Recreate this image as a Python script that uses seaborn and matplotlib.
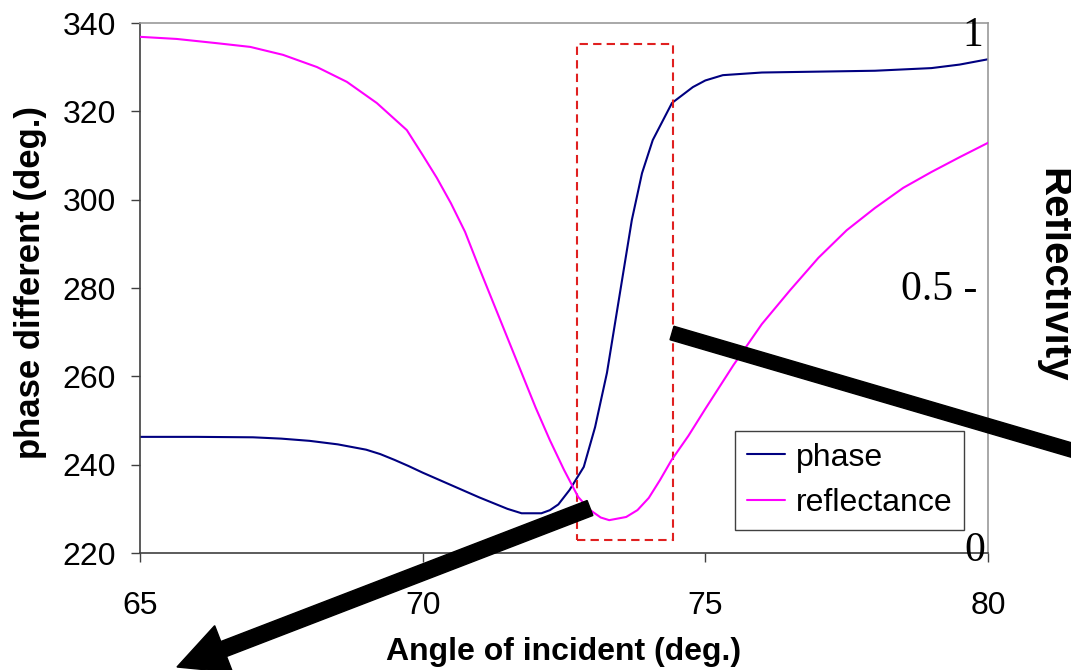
import matplotlib
matplotlib.use('Agg')
import matplotlib.pyplot as plt
import seaborn as sns
from matplotlib.patches import Rectangle, FancyArrow
from matplotlib.lines import Line2D

# phase curve (left axis)
phase_angle = [65.0, 66.0, 67.0, 67.5, 68.0, 68.5, 69.0, 69.25, 69.5, 69.75, 70.0, 70.5, 71.0,
               71.5, 71.75, 72.1, 72.25, 72.4, 72.6, 72.85, 73.05, 73.26, 73.49, 73.7, 73.88,
               74.07, 74.41, 74.78, 75.0, 75.31, 76.0, 77.0, 78.0, 79.0, 79.5, 80.0]
phase_deg = [246.3, 246.3, 246.2, 245.9, 245.4, 244.6, 243.4, 242.4, 241.1, 239.7, 238.2, 235.4,
             232.6, 230.0, 229.0, 229.0, 229.7, 231.0, 234.3, 239.5, 248.5, 260.8, 278.9, 295.4,
             306.0, 313.5, 321.9, 325.5, 327.0, 328.2, 328.8, 329.0, 329.2, 329.8, 330.6, 331.8]

# reflectance curve (right axis, 0..1)
refl_angle = [65.0, 65.65, 66.36, 66.95, 67.53, 68.13, 68.66, 69.19, 69.72, 70.0, 70.25, 70.5,
              70.75, 71.0, 71.25, 71.5, 71.75, 72.0, 72.25, 72.5, 72.75, 72.95, 73.15, 73.3,
              73.6, 73.8, 74.0, 74.2, 74.4, 74.7, 75.0, 75.5, 76.0, 76.5, 77.0, 77.5, 78.0,
              78.5, 79.0, 79.5, 80.0]
reflectance = [0.974, 0.970, 0.962, 0.955, 0.940, 0.917, 0.889, 0.849, 0.798, 0.751, 0.708, 0.660,
               0.606, 0.538, 0.472, 0.406, 0.340, 0.274, 0.213, 0.157, 0.106, 0.082, 0.067, 0.062,
               0.068, 0.081, 0.104, 0.138, 0.175, 0.221, 0.272, 0.355, 0.432, 0.496, 0.557, 0.609,
               0.651, 0.689, 0.719, 0.747, 0.774]

x_ticks = [65, 70, 75, 80]
y_ticks = [220, 240, 260, 280, 300, 320, 340]
refl_marks = [1.0, 0.5, 0.0]
refl_labels = ['1', '0.5 -', '0']
series_names = ['phase', 'reflectance']
series_colors = ['#000080', '#FF00FF']


def main():
    sns.set_style('white')
    plt.rcParams['font.family'] = ['Liberation Sans', 'DejaVu Sans']
    plt.rcParams['text.color'] = 'black'
    plt.rcParams['axes.labelcolor'] = 'black'

    fig = plt.figure(figsize=(10.71, 6.70), dpi=100)
    ax = fig.add_axes([0.1307, 0.1746, 0.7918, 0.7910])
    ax2 = ax.twinx()

    sns.lineplot(x=phase_angle, y=phase_deg, ax=ax, color=series_colors[0], linewidth=1.5, sort=False)
    sns.lineplot(x=refl_angle, y=reflectance, ax=ax2, color=series_colors[1], linewidth=1.5, sort=False)

    ax.set_xlim(65, 80)
    ax.set_ylim(220, 340)
    ax2.set_ylim(0, 1)
    ax.set_xticks(x_ticks)
    ax.set_yticks(y_ticks)
    ax.tick_params(axis='both', labelsize=23, direction='out', length=6.5, width=1,
                   color='#404040', labelcolor='black')
    ax.tick_params(axis='x', pad=21, bottom=True)
    ax.tick_params(axis='y', pad=11, left=True)
    ax2.set_yticks([])

    for side in ['left', 'bottom']:
        ax.spines[side].set_color('#404040')
        ax.spines[side].set_linewidth(1.2)
    for side in ['top', 'right']:
        ax.spines[side].set_color('#999999')
        ax.spines[side].set_linewidth(1.2)
    for side in ax2.spines:
        ax2.spines[side].set_visible(False)

    ax.set_xlabel('Angle of incident (deg.)', fontsize=23, fontweight='bold')
    ax.set_ylabel('phase different (deg.)', fontsize=25, fontweight='bold')
    ax.xaxis.set_label_coords(0.5, -0.158)
    ax.yaxis.set_label_coords(-0.11, 0.51)

    # right side reflectivity marks are plain serif text inside the frame
    offsets = [(-3.5, -9.5), (-8, -1.5), (-2, 1.5)]
    for val, lab, off in zip(refl_marks, refl_labels, offsets):
        ax2.annotate(lab, xy=(1, val), xycoords=ax2.get_yaxis_transform(), xytext=off,
                     textcoords='offset points', ha='right', va='center',
                     fontsize=30, family=['Liberation Serif', 'DejaVu Serif'])
    fig.text(0.9655, 0.5896, 'Reflectivity', rotation=270, ha='left', va='center',
             fontsize=29, fontweight='bold')

    # dashed box around the steep region
    ax.add_patch(Rectangle((72.73, 222.95), 1.70, 112.3, fill=False, edgecolor='#E02020',
                           linestyle=(0, (4, 2.5)), linewidth=1.5, zorder=5))

    handles = [Line2D([], [], color=c, linewidth=1.5) for c in series_colors]
    leg = ax2.legend(handles, series_names, loc='upper left', bbox_to_anchor=(0.7017, 0.2302),
                     borderaxespad=0, fontsize=23, frameon=True, fancybox=False, framealpha=1,
                     edgecolor='#404040', handlelength=1.2, handletextpad=0.35,
                     labelspacing=0.5, borderpad=0.36)
    leg.get_frame().set_linewidth(1.0)

    # thick black arrows drawn in figure inches
    tr = fig.dpi_scale_trans
    fig.patches.append(FancyArrow(5.90, 1.62, -4.13, -1.59, width=0.16, head_width=0.5,
                                  head_length=0.5, length_includes_head=True,
                                  color='black', transform=tr, zorder=10))
    fig.patches.append(FancyArrow(6.72, 3.37, 4.88, -1.43, width=0.14, head_width=0.45,
                                  head_length=0.45, length_includes_head=True,
                                  color='black', transform=tr, zorder=10))

    fig.savefig('out.png', dpi=100)


if __name__ == '__main__':
    main()
